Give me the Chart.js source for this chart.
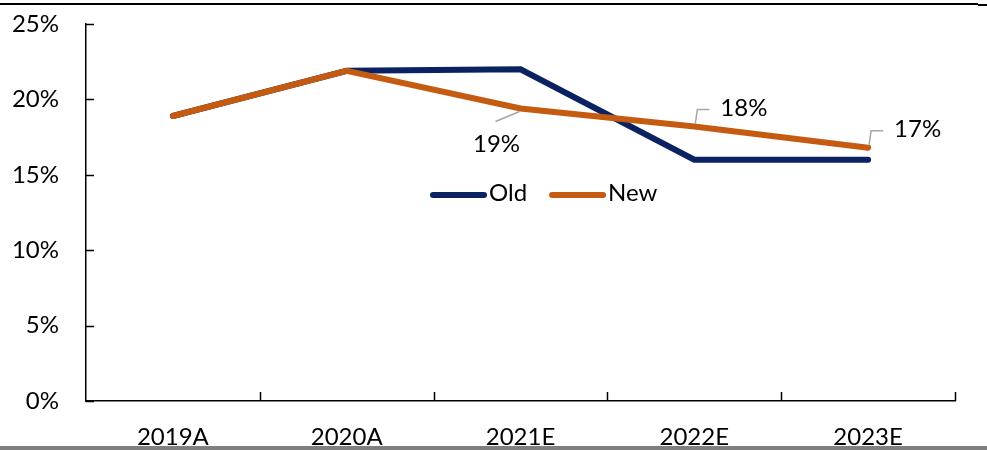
<!DOCTYPE html>
<html>
<head>
<meta charset="utf-8">
<script src="https://cdn.jsdelivr.net/npm/chart.js@4/dist/chart.umd.min.js"></script>
<style>
	html, body { margin: 0; padding: 0; background: #fff; }
	#wrap { position: relative; width: 987px; height: 450px; overflow: hidden; }
	#topRule { position: absolute; left: 0; top: 3px; width: 978px; height: 2px; background: #000; }
	#topRuleEnd { position: absolute; left: 978px; top: 4px; width: 9px; height: 2px; background: #000; }
	#bottomBar { position: absolute; left: 0; top: 446px; width: 987px; height: 4px; background: #7f7f7f; }
	canvas { position: absolute; left: 0; top: 0; }
</style>
</head>
<body>
<div id="wrap">
	<canvas id="ChartCanvas" width="987" height="450"></canvas>
	<div id="topRule"></div>
	<div id="topRuleEnd"></div>
	<div id="bottomBar"></div>
</div>
<script>
// margin estimates by year
var years = ['2019A', '2020A', '2021E', '2022E', '2023E'];
var oldValues = [18.9, 21.9, 22.0, 16.0, 16.0];
var newValues = [18.9, 21.9, 19.4, 18.2, 16.8];
// which points of the new series carry a value tag
var taggedPoints = [2, 3, 4];

var FONT = 'Lato, "Open Sans", sans-serif';
var FSIZE = 24;
var navy = '#0b2262';
var orange = '#c55a11';

// small inward ticks on the value axis, upward ticks on the category axis
var innerTicks = {
	id: 'innerTicks',
	afterDraw: function(chart) {
		var ctx = chart.ctx;
		var x = chart.scales.x, y = chart.scales.y;
		ctx.save();
		ctx.strokeStyle = '#000';
		ctx.lineWidth = 1.5;
		ctx.beginPath();
		y.ticks.forEach(function(t) {
			var py = Math.round(y.getPixelForValue(t.value)) + 0.5;
			ctx.moveTo(x.left, py);
			ctx.lineTo(x.left + 8, py);
		});
		for (var i = 1; i <= years.length; i++) {
			var px = Math.round(x.left + (x.right - x.left) * i / years.length) + 0.5;
			ctx.moveTo(px, y.bottom);
			ctx.lineTo(px, y.bottom - 9);
		}
		ctx.stroke();
		ctx.restore();
	}
};

// legend sitting inside the plot
var innerLegend = {
	id: 'innerLegend',
	afterDraw: function(chart) {
		var ctx = chart.ctx;
		var ly = 193;
		var startX = 433;
		ctx.save();
		ctx.font = FSIZE + 'px ' + FONT;
		ctx.textBaseline = 'middle';
		ctx.lineCap = 'round';
		chart.data.datasets.forEach(function(ds) {
			ctx.strokeStyle = ds.borderColor;
			ctx.lineWidth = 6;
			ctx.beginPath();
			ctx.moveTo(startX, ly + 2);
			ctx.lineTo(startX + 51, ly + 2);
			ctx.stroke();
			ctx.fillStyle = '#000';
			ctx.fillText(ds.label, startX + 56, ly);
			startX += 56 + ctx.measureText(ds.label).width + 25;
		});
		ctx.restore();
	}
};

// value tags with leader lines on the new series
var valueTags = {
	id: 'valueTags',
	afterDatasetsDraw: function(chart) {
		var ctx = chart.ctx;
		var meta = chart.getDatasetMeta(1);
		ctx.save();
		ctx.font = FSIZE + 'px ' + FONT;
		ctx.textBaseline = 'middle';
		ctx.strokeStyle = '#a6a6a6';
		ctx.lineWidth = 1.5;
		taggedPoints.forEach(function(i) {
			var pt = meta.data[i];
			var txt = Math.round(newValues[i]) + '%';
			ctx.beginPath();
			if (i === 2) {
				ctx.moveTo(pt.x - 1, pt.y + 3);
				ctx.lineTo(pt.x - 25, pt.y + 13);
				ctx.stroke();
				ctx.fillStyle = '#000';
				ctx.textAlign = 'center';
				ctx.fillText(txt, pt.x - 24, pt.y + 36);
			} else {
				ctx.moveTo(pt.x + 1, pt.y - 3);
				ctx.lineTo(pt.x + 3, pt.y - 17);
				ctx.lineTo(pt.x + 15, pt.y - 17);
				ctx.stroke();
				ctx.fillStyle = '#000';
				ctx.textAlign = 'left';
				ctx.fillText(txt, pt.x + 26, pt.y - 18);
			}
		});
		ctx.restore();
	}
};

var ctx = document.getElementById('ChartCanvas').getContext('2d');
var chart = new Chart(ctx, {
	type: 'line',
	data: {
		labels: years,
		datasets: [{
			label: 'Old',
			data: oldValues,
			order: 1,
			borderColor: navy,
			backgroundColor: navy,
			borderWidth: 6,
			borderCapStyle: 'round',
			pointRadius: 0,
			tension: 0
		}, {
			label: 'New',
			data: newValues,
			order: 0, // drawn over the old line
			borderColor: orange,
			backgroundColor: orange,
			borderWidth: 6,
			borderCapStyle: 'round',
			pointRadius: 0,
			tension: 0
		}]
	},
	options: {
		responsive: false,
		animation: false,
		layout: { padding: { top: 24, right: 32, left: 0, bottom: 0 } },
		plugins: {
			legend: { display: false },
			tooltip: { enabled: false }
		},
		scales: {
			x: {
				offset: true,
				grid: { display: false, drawTicks: false },
				border: { display: true, color: '#000', width: 1.5 },
				ticks: { color: '#000', font: { family: FONT, size: FSIZE }, padding: 22, maxRotation: 0 },
				afterFit: function(s) { s.height = 49; }
			},
			y: {
				min: 0,
				max: 25,
				grid: { display: false, drawTicks: false },
				border: { display: true, color: '#000', width: 1.5 },
				ticks: {
					stepSize: 5,
					color: '#000',
					font: { family: FONT, size: FSIZE },
					padding: 27,
					callback: function(v) { return v + '%'; }
				},
				afterFit: function(s) {
					s.width = 86;
					s.paddingTop = 0;
					s.paddingBottom = 0;
				}
			}
		}
	},
	plugins: [innerTicks, valueTags, innerLegend]
});
</script>
</body>
</html>
